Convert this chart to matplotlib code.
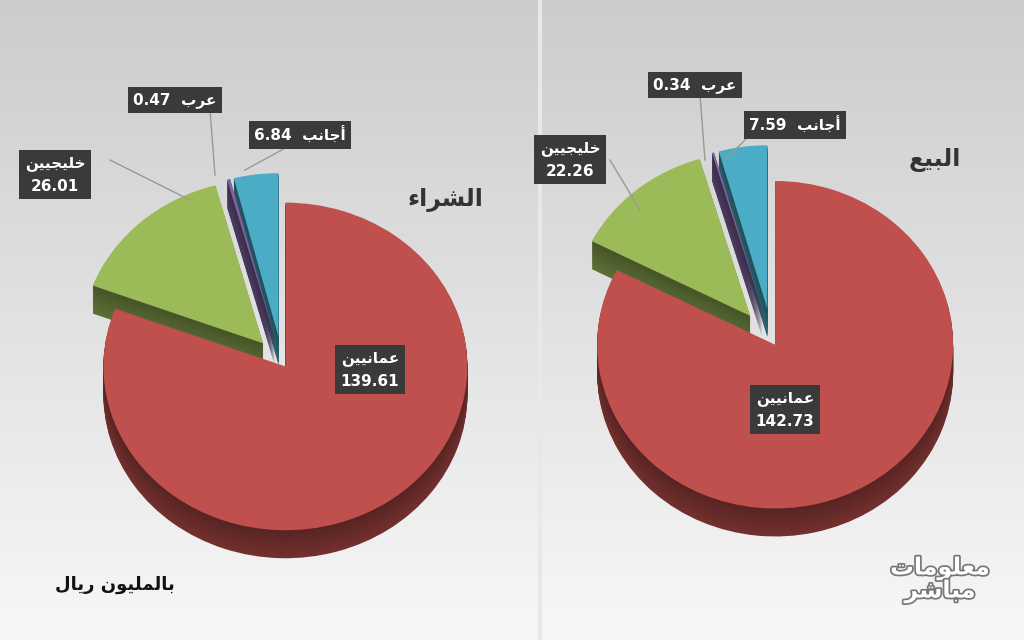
import numpy as np
import matplotlib
matplotlib.use("Agg")
import matplotlib.pyplot as plt
from matplotlib.patches import Wedge
from matplotlib.transforms import Affine2D
import matplotlib.patheffects as pe

FORMS = {
 'ا':('\uFE8D','\uFE8E',None,None),'أ':('\uFE83','\uFE84',None,None),
 'ب':('\uFE8F','\uFE90','\uFE91','\uFE92'),'ت':('\uFE95','\uFE96','\uFE97','\uFE98'),
 'ج':('\uFE9D','\uFE9E','\uFE9F','\uFEA0'),'خ':('\uFEA5','\uFEA6','\uFEA7','\uFEA8'),
 'ر':('\uFEAD','\uFEAE',None,None),'ش':('\uFEB5','\uFEB6','\uFEB7','\uFEB8'),
 'ع':('\uFEC9','\uFECA','\uFECB','\uFECC'),'ل':('\uFEDD','\uFEDE','\uFEDF','\uFEE0'),
 'م':('\uFEE1','\uFEE2','\uFEE3','\uFEE4'),'ن':('\uFEE5','\uFEE6','\uFEE7','\uFEE8'),
 'و':('\uFEED','\uFEEE',None,None),'ي':('\uFEF1','\uFEF2','\uFEF3','\uFEF4'),
 'ء':('\uFE80',None,None,None),
}
def shape(s):
    out=[]
    for w in s.split(' '):
        res=''
        for i,c in enumerate(w):
            if c not in FORMS: res+=c; continue
            f=FORMS[c]
            prev=w[i-1] if i>0 else None
            nxt=w[i+1] if i<len(w)-1 else None
            jp = prev in FORMS and FORMS[prev][2] is not None
            jn = nxt in FORMS and f[2] is not None and FORMS[nxt][1] is not None
            if jp and jn: res+=f[3]
            elif jp and f[1]: res+=f[1]
            elif jn: res+=f[2]
            else: res+=f[0]
        out.append(res[::-1])
    return ' '.join(out[::-1])

cats = ['عمانيين','خليجيين','عرب','أجانب']
buy_vals = [139.61, 26.01, 0.47, 6.84]
sell_vals = [142.73, 22.26, 0.34, 7.59]
colors = ['#c0504d','#9bbb59','#8064a2','#4bacc6']
titles = ['الشراء','البيع']

fig = plt.figure(figsize=(10.24,6.4), dpi=100)
bg = fig.add_axes([0,0,1,1]); bg.axis('off')
g = np.linspace(0.80,0.97,200)[:,None]*np.ones((1,400))
bg.imshow(np.dstack([g,g,g]), aspect='auto', extent=[0,1,0,1])
ax = fig.add_axes([0,0,1,1], facecolor='none')
ax.set_xlim(0,1024); ax.set_ylim(0,640); ax.axis('off')
ax.axvline(540, color='#e8e8e8', lw=3)

def darken(c,f):
    c=np.array(matplotlib.colors.to_rgb(c)); return tuple(c*f)

def pie3d(vals, cx, cy, r, sy, expl_big, expl_small):
    tot=sum(vals); a=90.0; segs=[]
    for i,v in enumerate(vals):
        sw=v/tot*360; t1=a-sw; mid=np.radians((a+t1)/2)
        e = expl_big if i==0 else expl_small
        ox,oy = cx+e*np.cos(mid), cy+e*np.sin(mid)*sy
        segs.append((ox,oy,t1,a,colors[i])); a=t1
    depth=28
    def tr(ox,oy): return Affine2D().scale(1,sy).translate(ox,oy)+ax.transData
    for d in range(depth,0,-1):
        for ox,oy,t1,t2,c in segs:
            w=Wedge((0,0),r,t1,t2,color=darken(c,0.45+0.15*(d/depth)),lw=0)
            w.set_transform(tr(ox,oy-d)); ax.add_patch(w)
    for ox,oy,t1,t2,c in segs:
        w=Wedge((0,0),r,t1,t2,color=c,lw=0); w.set_transform(tr(ox,oy)); ax.add_patch(w)

def label(x,y,txt):
    ax.text(x,640-y,txt,color='white',fontsize=11,fontweight='bold',ha='center',va='center',
            family='DejaVu Sans',linespacing=1.6,
            bbox=dict(boxstyle='square,pad=0.35',fc='#3a3a3a',ec='none'))

pie3d(buy_vals,282,278,182,0.9,6,28)
pie3d(sell_vals,772,300,178,0.92,6,34)

lines=[((110,160),(190,200)),((210,110),(215,175)),((300,140),(245,170)),
       ((610,160),(640,210)),((700,95),(705,160)),((760,125),(725,160))]
for (x1,y1),(x2,y2) in lines:
    ax.plot([x1,x2],[640-y1,640-y2],color='#999999',lw=1)

for vals,pos in [(buy_vals,[(370,370),(55,175),(175,100),(300,135)]),
                 (sell_vals,[(785,410),(570,160),(695,85),(795,125)])]:
    for i,(x,y) in enumerate(pos):
        if i<2: label(x,y,shape(cats[i])+'\n'+f'{vals[i]:.2f}')
        else: label(x,y,f'{vals[i]:.2f}  '+shape(cats[i]))

ax.text(445,640-200,shape(titles[0]),fontsize=17,fontweight='bold',color='#333333',ha='center',va='center')
ax.text(935,640-160,shape(titles[1]),fontsize=17,fontweight='bold',color='#333333',ha='center',va='center')
ax.text(115,640-585,shape('بالمليون ريال'),fontsize=13,fontweight='bold',color='#111111',ha='center',va='center')
ax.text(940,640-580,shape('معلومات')+'\n'+shape('مباشر'),fontsize=17,fontweight='bold',color='white',
        ha='center',va='center',linespacing=0.9,
        path_effects=[pe.withStroke(linewidth=2.5,foreground='#777777')])
fig.savefig('out.png',dpi=100)
